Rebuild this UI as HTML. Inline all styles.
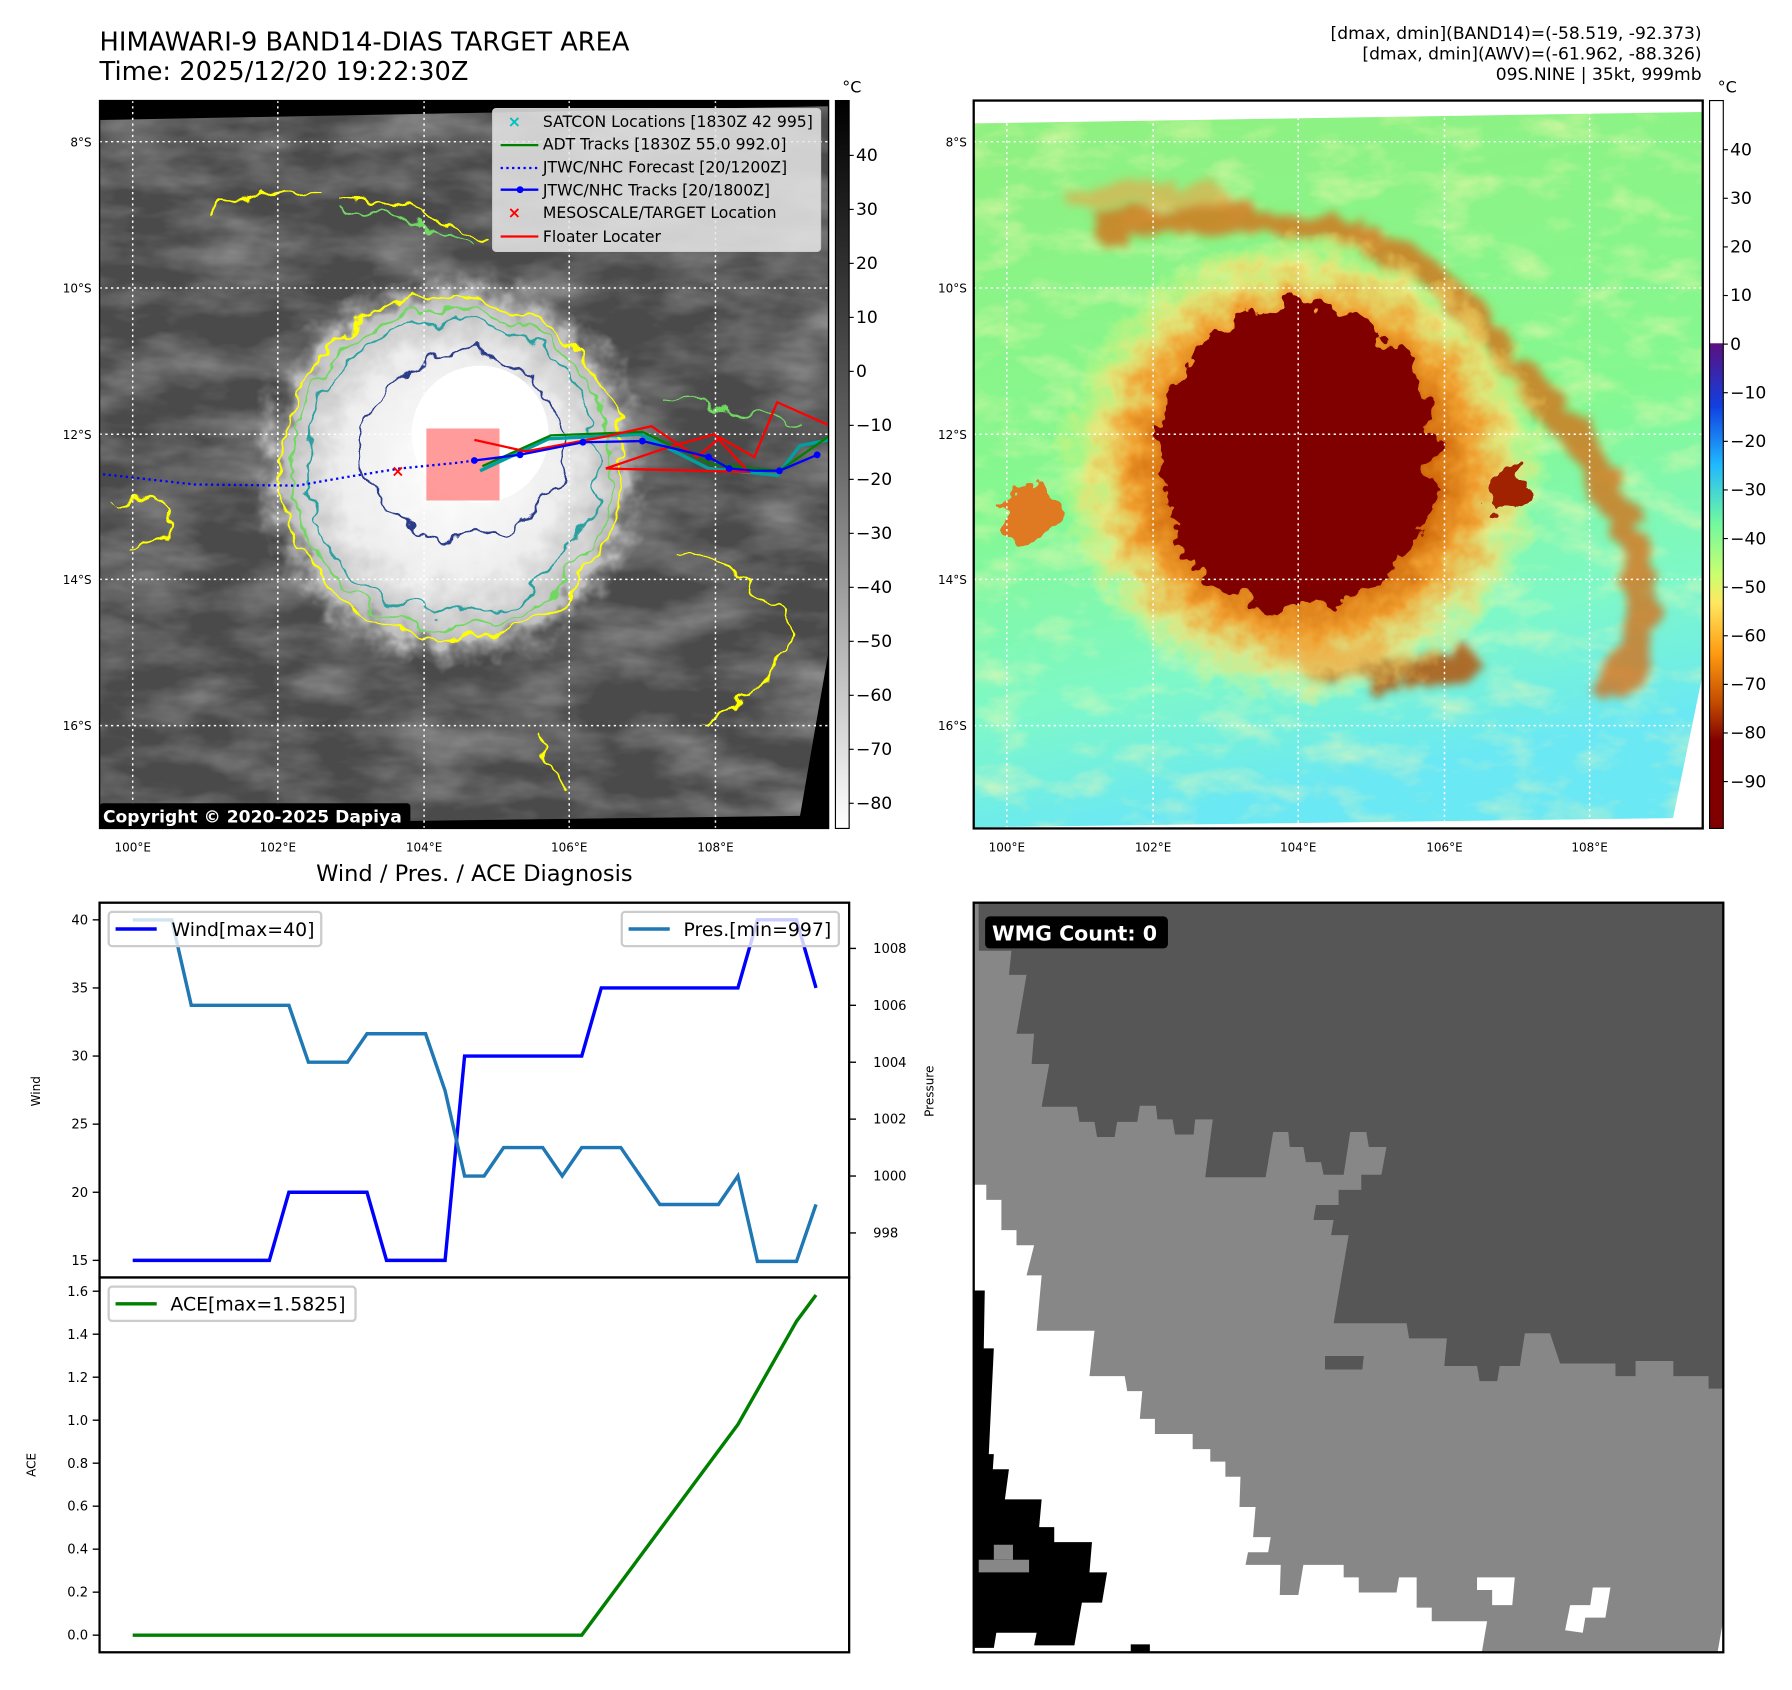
<!DOCTYPE html>
<html><head><meta charset="utf-8"><style>
html,body{margin:0;padding:0;background:#fff;}
svg{display:block;font-family:"DejaVu Sans","Liberation Sans",sans-serif;}
</style></head><body>
<svg id="fig" width="1792" height="1690" viewBox="0 0 1568 1479" xmlns="http://www.w3.org/2000/svg">
<defs>
<clipPath id="clipL"><rect x="87" y="88" width="638" height="637"/></clipPath>
<clipPath id="clipR"><rect x="852" y="88" width="638" height="637"/></clipPath>
<clipPath id="clipB"><rect x="852" y="790" width="656" height="656"/></clipPath>
<clipPath id="clipW"><rect x="87" y="790" width="656" height="328"/></clipPath>
<filter id="noiseG" x="0" y="0" width="100%" height="100%">
<feTurbulence type="fractalNoise" baseFrequency="0.012 0.03" numOctaves="4" seed="3"/>
<feColorMatrix type="matrix" values="0 0 0 0 0.62  0 0 0 0 0.62  0 0 0 0 0.62  0.9 0 0 0 -0.32"/>
</filter>
<filter id="wig" x="-20%" y="-20%" width="140%" height="140%">
<feTurbulence type="fractalNoise" baseFrequency="0.035" numOctaves="3" seed="7" result="t"/>
<feDisplacementMap in="SourceGraphic" in2="t" scale="28" xChannelSelector="R" yChannelSelector="G"/>
</filter>
<filter id="wig2" x="-20%" y="-20%" width="140%" height="140%">
<feTurbulence type="fractalNoise" baseFrequency="0.05" numOctaves="3" seed="11" result="t"/>
<feDisplacementMap in="SourceGraphic" in2="t" scale="40" xChannelSelector="R" yChannelSelector="G"/>
</filter>
<filter id="wigBlur" x="-20%" y="-20%" width="140%" height="140%">
<feTurbulence type="fractalNoise" baseFrequency="0.04" numOctaves="3" seed="13" result="t"/>
<feDisplacementMap in="SourceGraphic" in2="t" scale="30" xChannelSelector="R" yChannelSelector="G" result="d"/>
<feGaussianBlur in="d" stdDeviation="4"/>
</filter>
<filter id="noiseY" x="0" y="0" width="100%" height="100%">
<feTurbulence type="fractalNoise" baseFrequency="0.02 0.04" numOctaves="4" seed="5"/>
<feColorMatrix type="matrix" values="0 0 0 0 1  0 0 0 0 0.95  0 0 0 0 0.45  2.2 0 0 0 -1.05"/>
</filter>
<radialGradient id="cloud" cx="50%" cy="50%" r="50%">
<stop offset="0" stop-color="#ffffff"/><stop offset="0.55" stop-color="#eeeeee"/><stop offset="0.85" stop-color="#bdbdbd"/><stop offset="1" stop-color="#8a8a8a" stop-opacity="0"/>
</radialGradient>
<radialGradient id="halo" cx="50%" cy="50%" r="50%">
<stop offset="0" stop-color="#9a2a00"/><stop offset="0.5" stop-color="#c85a00"/><stop offset="0.7" stop-color="#f0a030"/><stop offset="0.85" stop-color="#ffe070" stop-opacity="0.7"/><stop offset="1" stop-color="#ffff80" stop-opacity="0"/>
</radialGradient>
<linearGradient id="greenBg" x1="0" y1="0" x2="0.2" y2="1">
<stop offset="0" stop-color="#90f080"/><stop offset="0.55" stop-color="#84f890"/><stop offset="0.82" stop-color="#7ef8c8"/><stop offset="1" stop-color="#6ae8f4"/>
</linearGradient>
<linearGradient id="cbGray" x1="0" y1="0" x2="0" y2="1">
<stop offset="0" stop-color="#000"/><stop offset="0.5" stop-color="#6a6a6a"/><stop offset="1" stop-color="#fff"/>
</linearGradient>
<linearGradient id="cbColor" x1="0" y1="0" x2="0" y2="1">
<stop offset="0" stop-color="#fff"/><stop offset="0.333" stop-color="#fff"/>
<stop offset="0.334" stop-color="#5a1080"/><stop offset="0.42" stop-color="#1040e0"/><stop offset="0.5" stop-color="#20b8ff"/>
<stop offset="0.58" stop-color="#70f8a0"/><stop offset="0.65" stop-color="#c8ff70"/><stop offset="0.69" stop-color="#ffe860"/>
<stop offset="0.76" stop-color="#ff9a10"/><stop offset="0.83" stop-color="#c04800"/><stop offset="0.88" stop-color="#800000"/><stop offset="1" stop-color="#800000"/>
</linearGradient>
</defs>

<!-- titles -->
<text x="87" y="44" font-size="22.5">HIMAWARI-9 BAND14-DIAS TARGET AREA</text>
<text x="87" y="70" font-size="22.5">Time: 2025/12/20 19:22:30Z</text>
<text x="1489" y="34" font-size="15" text-anchor="end">[dmax, dmin](BAND14)=(-58.519, -92.373)</text>
<text x="1489" y="52" font-size="15" text-anchor="end">[dmax, dmin](AWV)=(-61.962, -88.326)</text>
<text x="1489" y="70" font-size="15" text-anchor="end">09S.NINE | 35kt, 999mb</text>

<!-- LEFT MAP -->
<g clip-path="url(#clipL)">
<rect x="87" y="88" width="638" height="637" fill="#4a4a4a"/>
<rect x="87" y="88" width="638" height="637" filter="url(#noiseG)"/>
<ellipse cx="395" cy="410" rx="175" ry="175" fill="url(#cloud)" filter="url(#wig2)"/>
<ellipse cx="420" cy="380" rx="60" ry="60" fill="#fff"/>
<g fill="none" filter="url(#wig)">
<ellipse cx="395" cy="410" rx="150" ry="150" stroke="#ffff00" stroke-width="2"/>
<ellipse cx="395" cy="410" rx="140" ry="140" stroke="#70d860" stroke-width="1.8"/>
<ellipse cx="395" cy="408" rx="128" ry="128" stroke="#2aa0a0" stroke-width="1.8"/>
<ellipse cx="405" cy="390" rx="90" ry="80" stroke="#2a3a8a" stroke-width="1.8"/>
<path d="M180,185 Q230,160 280,170 M300,170 Q360,180 420,210 M590,480 Q640,500 690,540 Q690,600 620,630 M470,640 Q480,670 500,690 M100,440 Q130,430 150,450 Q140,480 110,480" stroke="#ffff00" stroke-width="2"/>
<path d="M300,180 Q360,190 410,215 M580,350 Q640,360 700,370" stroke="#70d860" stroke-width="1.8"/>
</g>
<polygon points="87,88 725,88 725,93 87,105" fill="#000"/>
<polygon points="725,570 725,725 87,725 87,722 700,714" fill="#000"/>
<g stroke="#fff" stroke-width="1.3" stroke-dasharray="2,3">
<line x1="87" y1="124" x2="725" y2="124"/><line x1="87" y1="252" x2="725" y2="252"/><line x1="87" y1="380" x2="725" y2="380"/><line x1="87" y1="507" x2="725" y2="507"/><line x1="87" y1="635" x2="725" y2="635"/>
<line x1="116" y1="88" x2="116" y2="725"/><line x1="243" y1="88" x2="243" y2="725"/><line x1="371" y1="88" x2="371" y2="725"/><line x1="498" y1="88" x2="498" y2="725"/><line x1="626" y1="88" x2="626" y2="725"/>
</g>
<rect x="373" y="375" width="64" height="63" fill="#ff7070" fill-opacity="0.7"/>
<polyline points="90,415 170,424 260,425 300,418 350,410 400,405 415,403" fill="none" stroke="#0000ff" stroke-width="2" stroke-dasharray="2,3"/>
<polyline points="420,412 480,384 560,380 620,410 680,416 700,390 725,385" fill="none" stroke="#00a0a0" stroke-width="3"/>
<polyline points="422,408 482,381 562,378 622,406 682,412 725,382" fill="none" stroke="#008000" stroke-width="2"/>
<polyline points="415,385 460,395 530,382 570,373 610,400 630,383 660,400 680,352 725,372" fill="none" stroke="#ff0000" stroke-width="2"/>
<polyline points="530,410 580,393 625,380 655,413 530,410" fill="none" stroke="#ff0000" stroke-width="2"/>
<polyline points="415,403 455,398 510,387 562,386 600,395 620,400 638,410 660,412 682,412 715,398" fill="none" stroke="#0000ff" stroke-width="2"/>
<g fill="#0000ff"><circle cx="415" cy="403" r="3"/><circle cx="455" cy="398" r="3"/><circle cx="510" cy="387" r="3"/><circle cx="562" cy="386" r="3"/><circle cx="620" cy="400" r="3"/><circle cx="638" cy="410" r="3"/><circle cx="682" cy="412" r="3"/><circle cx="715" cy="398" r="3"/></g>
<text x="348" y="417" font-size="14" font-weight="bold" fill="#ff0000" text-anchor="middle">×</text>
</g>
<rect x="87" y="88" width="638" height="637" fill="none" stroke="#000" stroke-width="1.2"/>
<!-- legend -->
<g>
<rect x="431" y="95" width="287" height="125" rx="3" fill="#e8e8e8" fill-opacity="0.85" stroke="#ccc"/>
<text x="450" y="111" font-size="14" fill="#00c0c0" text-anchor="middle" font-weight="bold">×</text>
<line x1="438" y1="127" x2="471" y2="127" stroke="#008000" stroke-width="2"/>
<line x1="438" y1="147" x2="471" y2="147" stroke="#0000ff" stroke-width="2" stroke-dasharray="2,3"/>
<line x1="438" y1="166" x2="471" y2="166" stroke="#0000ff" stroke-width="2"/><circle cx="455" cy="166" r="3" fill="#0000ff"/>
<text x="450" y="191" font-size="14" fill="#ff0000" text-anchor="middle" font-weight="bold">×</text>
<line x1="438" y1="207" x2="471" y2="207" stroke="#ff0000" stroke-width="2"/>
<g font-size="13.7" fill="#000">
<text x="475" y="111">SATCON Locations [1830Z 42 995]</text>
<text x="475" y="131">ADT Tracks [1830Z 55.0 992.0]</text>
<text x="475" y="151">JTWC/NHC Forecast [20/1200Z]</text>
<text x="475" y="171">JTWC/NHC Tracks [20/1800Z]</text>
<text x="475" y="191">MESOSCALE/TARGET Location</text>
<text x="475" y="212">Floater Locater</text>
</g>
</g>
<rect x="87" y="703" width="272" height="22" rx="3" fill="#000"/>
<text x="90" y="720" font-size="15" font-weight="bold" fill="#fff">Copyright © 2020-2025 Dapiya</text>
<!-- left axes labels -->
<g font-size="10.5" fill="#000">
<text x="80" y="128" text-anchor="end">8°S</text><text x="80" y="256" text-anchor="end">10°S</text><text x="80" y="384" text-anchor="end">12°S</text><text x="80" y="511" text-anchor="end">14°S</text><text x="80" y="639" text-anchor="end">16°S</text>
<text x="116" y="745" text-anchor="middle">100°E</text><text x="243" y="745" text-anchor="middle">102°E</text><text x="371" y="745" text-anchor="middle">104°E</text><text x="498" y="745" text-anchor="middle">106°E</text><text x="626" y="745" text-anchor="middle">108°E</text>
</g>
<!-- left colorbar -->
<g>
<rect x="731" y="88" width="12" height="637" fill="url(#cbGray)" stroke="#000" stroke-width="1"/>
<text x="737" y="81" font-size="14">°C</text>
<g id="cbL" font-size="15"></g>
</g>

<!-- RIGHT MAP -->
<g clip-path="url(#clipR)">
<rect x="852" y="88" width="638" height="637" fill="url(#greenBg)"/>
<rect x="852" y="88" width="638" height="637" filter="url(#noiseY)" opacity="0.55"/>
<g filter="url(#wigBlur)" fill="none">
<path d="M960,200 Q1060,180 1180,205 Q1280,240 1320,320 Q1400,390 1430,480 Q1450,570 1400,610" stroke="#d86a10" stroke-width="26" opacity="0.75"/>
<path d="M930,180 Q1000,160 1080,175" stroke="#f0a040" stroke-width="18" opacity="0.6"/>
<path d="M1120,560 Q1200,600 1290,580" stroke="#b84a00" stroke-width="28" opacity="0.8"/>
</g>
<g filter="url(#wig2)">
<ellipse cx="1140" cy="410" rx="215" ry="205" fill="url(#halo)"/>
<ellipse cx="1135" cy="400" rx="120" ry="135" fill="#800000"/>
<ellipse cx="1090" cy="470" rx="60" ry="40" fill="#800000"/>
<ellipse cx="900" cy="450" rx="25" ry="25" fill="#e07a20"/>
<ellipse cx="1320" cy="430" rx="20" ry="18" fill="#a02000"/>
</g>
<polygon points="852,88 1490,88 1490,98 852,108" fill="#fff"/>
<polygon points="1490,590 1490,725 852,725 852,724 1464,716" fill="#fff"/>
<g stroke="#fff" stroke-width="1.3" stroke-dasharray="2,3">
<line x1="852" y1="124" x2="1490" y2="124"/><line x1="852" y1="252" x2="1490" y2="252"/><line x1="852" y1="380" x2="1490" y2="380"/><line x1="852" y1="507" x2="1490" y2="507"/><line x1="852" y1="635" x2="1490" y2="635"/>
<line x1="881" y1="88" x2="881" y2="725"/><line x1="1009" y1="88" x2="1009" y2="725"/><line x1="1136" y1="88" x2="1136" y2="725"/><line x1="1264" y1="88" x2="1264" y2="725"/><line x1="1391" y1="88" x2="1391" y2="725"/>
</g>
</g>
<rect x="852" y="88" width="638" height="637" fill="none" stroke="#000" stroke-width="2"/>
<g font-size="10.5" fill="#000">
<text x="846" y="128" text-anchor="end">8°S</text><text x="846" y="256" text-anchor="end">10°S</text><text x="846" y="384" text-anchor="end">12°S</text><text x="846" y="511" text-anchor="end">14°S</text><text x="846" y="639" text-anchor="end">16°S</text>
<text x="881" y="745" text-anchor="middle">100°E</text><text x="1009" y="745" text-anchor="middle">102°E</text><text x="1136" y="745" text-anchor="middle">104°E</text><text x="1264" y="745" text-anchor="middle">106°E</text><text x="1391" y="745" text-anchor="middle">108°E</text>
</g>
<g>
<rect x="1496" y="88" width="12" height="637" fill="url(#cbColor)" stroke="#000" stroke-width="1"/>
<text x="1503" y="81" font-size="14">°C</text>
<g id="cbR" font-size="15"></g>
</g>

<!-- WIND / PRES / ACE -->
<text x="415" y="771" font-size="19.7" text-anchor="middle">Wind / Pres. / ACE Diagnosis</text>
<g id="chartWind"></g>
<g id="chartAce"></g>

<!-- WMG -->
<g clip-path="url(#clipB)">
<rect x="852" y="790" width="656" height="656" fill="#878787"/>
<g transform="translate(852,788) scale(0.4405)">
<polygon fill="#565656" points="70,5 1515,5 1515,970 1460,970 1460,945 1390,945 1390,915 1315,915 1315,945 1275,945 1275,920 1165,920 1145,860 1095,860 1085,925 1045,925 1040,955 1005,955 1000,925 935,925 940,870 865,870 860,840 715,840 745,665 710,665 715,635 675,635 680,605 725,605 725,575 770,575 770,545 810,545 820,490 785,490 780,460 748,460 735,545 695,545 690,520 660,520 655,490 628,490 625,460 595,460 580,550 460,550 475,435 440,435 437,465 400,465 395,435 365,435 362,408 330,408 325,440 285,440 280,470 245,470 240,440 210,440 205,410 135,410 150,325 115,325 120,265 85,265 105,148 70,148 75,100 10,100 10,5"/>
<polygon fill="#565656" points="10,5 70,5 70,60 10,60"/>
<polygon fill="#565656" points="698,905 775,905 772,932 698,932"/>
<polygon fill="#fff" points="10,565 25,565 25,595 55,595 55,655 85,655 85,685 120,685 105,745 135,745 125,855 240,855 230,945 300,945 305,975 335,975 330,1030 360,1030 360,1060 435,1060 435,1090 470,1090 470,1115 500,1115 500,1145 530,1145 528,1205 560,1205 555,1265 590,1265 585,1295 545,1295 540,1320 610,1320 608,1380 645,1380 655,1320 735,1320 735,1345 765,1345 765,1375 840,1375 845,1345 880,1345 880,1405 910,1405 910,1432 1020,1432 1005,1520 1475,1510 1510,1310 1530,1310 1530,1540 0,1540 0,565"/>
<polygon fill="#fff" points="1000,1345 1075,1345 1070,1400 1030,1400 1030,1370 1000,1370"/>
<polygon fill="#fff" points="1175,1450 1185,1400 1225,1400 1230,1365 1265,1365 1255,1425 1215,1425 1210,1455"/>
<polygon fill="#000" points="0,775 22,775 20,890 40,890 30,1100 40,1100 38,1130 70,1130 62,1190 135,1190 130,1245 160,1245 160,1275 235,1275 230,1335 265,1335 255,1395 215,1395 200,1480 120,1480 125,1455 45,1455 40,1485 0,1485"/>
<polygon fill="#878787" points="10,1310 110,1310 110,1335 10,1335"/>
<polygon fill="#878787" points="40,1280 78,1280 78,1310 40,1310"/>
<rect x="312" y="1478" width="38" height="30" fill="#000"/>
</g>
<rect x="862" y="802" width="160" height="28" rx="4" fill="#000"/>
<text x="868" y="823" font-size="18" font-weight="bold" fill="#fff">WMG Count: 0</text>
</g>
<rect x="852" y="790" width="656" height="656" fill="none" stroke="#000" stroke-width="2"/>

<script>
// ---- chart data ----
const windValues = [15,15,15,15,15,15,15,15,20,20,20,20,20,15,15,15,15,30,30,30,30,30,30,30,35,35,35,35,35,35,35,35,40,40,40,35];
const presValues = [1009,1009,1009,1006,1006,1006,1006,1006,1006,1004,1004,1004,1005,1005,1005,1005,1003,1000,1000,1001,1001,1001,1000,1001,1001,1001,1000,999,999,999,999,1000,997,997,997,999];
const aceValues = [0,0,0,0,0,0,0,0,0,0,0,0,0,0,0,0,0,0,0,0,0,0,0,0,0.1225,0.245,0.3675,0.49,0.6125,0.735,0.8575,0.98,1.14,1.30,1.46,1.5825];
const windTicks = [15,20,25,30,35,40];
const presTicks = [998,1000,1002,1004,1006,1008];
const aceTicks = [0.0,0.2,0.4,0.6,0.8,1.0,1.2,1.4,1.6];
const grayCbTicks = [40,30,20,10,0,-10,-20,-30,-40,-50,-60,-70,-80];
const colorCbTicks = [40,30,20,10,0,-10,-20,-30,-40,-50,-60,-70,-80,-90];

const NS = 'http://www.w3.org/2000/svg';
function mk(tag, attrs, parent){const e=document.createElementNS(NS,tag);for(const k in attrs)e.setAttribute(k,attrs[k]);parent.appendChild(e);return e;}
const xIdx = i => 116 + i*(714-116)/35;
const yWind = v => 1103 - (v-15)*(1103-805)/25;
const yPres = v => 1079 - (v-998)*(1079-830)/10;
const yAce = v => 1431 - v*(1431-1130)/1.6;
const yCbL = v => 136 + (40-v)*(703-136)/120;
const yCbR = v => 131 + (40-v)*(684-131)/130;

// colorbars
const cbL = document.getElementById('cbL');
grayCbTicks.forEach(v=>{
  const y=yCbL(v);
  mk('line',{x1:743,y1:y,x2:747,y2:y,stroke:'#000'},cbL);
  const t=mk('text',{x:749,y:y+5},cbL); t.textContent=(v<0?'\u2212'+(-v):v);
  
  
});
const cbR = document.getElementById('cbR');
colorCbTicks.forEach(v=>{
  const y=yCbR(v);
  mk('line',{x1:1508,y1:y,x2:1512,y2:y,stroke:'#000'},cbR);
  const t=mk('text',{x:1514,y:y+5},cbR); t.textContent=(v<0?'\u2212'+(-v):v);
  
  
});

// wind/pressure chart
const gW = document.getElementById('chartWind');
mk('rect',{x:87,y:790,width:656,height:328,fill:'#fff'},gW);
windTicks.forEach(v=>{
  const y=yWind(v);
  mk('line',{x1:81,y1:y,x2:87,y2:y,stroke:'#000','stroke-width':1.2},gW);
  const t=mk('text',{x:77,y:y+4,'font-size':11.5,'text-anchor':'end'},gW); t.textContent=v;
  
  
});
presTicks.forEach(v=>{
  const y=yPres(v);
  mk('line',{x1:743,y1:y,x2:749,y2:y,stroke:'#000','stroke-width':1.2},gW);
  const t=mk('text',{x:764,y:y+4,'font-size':11.5},gW); t.textContent=v;
  
  
});
const wl=mk('text',{x:35,y:955,'font-size':10.5,'text-anchor':'middle',transform:'rotate(-90 35 955)'},gW); wl.textContent='Wind';


const pl=mk('text',{x:817,y:955,'font-size':10.5,'text-anchor':'middle',transform:'rotate(-90 817 955)'},gW); pl.textContent='Pressure';


const clipG = mk('g',{'clip-path':'url(#clipW)'},gW);
const wLine=mk('polyline',{points:windValues.map((v,i)=>xIdx(i)+','+yWind(v)).join(' '),fill:'none',stroke:'#0000ff','stroke-width':3,'stroke-linejoin':'miter'},clipG);


const pLine=mk('polyline',{points:presValues.map((v,i)=>xIdx(i)+','+yPres(v)).join(' '),fill:'none',stroke:'#1f77b4','stroke-width':3},clipG);


// legends
const lw=mk('g',{},gW);


mk('rect',{x:95,y:798,width:186,height:30,rx:3,fill:'#fff','fill-opacity':0.8,stroke:'#ccc','stroke-width':2},lw);
mk('line',{x1:101,y1:813,x2:137,y2:813,stroke:'#0000ff','stroke-width':3},lw);
const lwt=mk('text',{x:150,y:819,'font-size':16.5},lw); lwt.textContent='Wind[max=40]';
const lp=mk('g',{},gW);


mk('rect',{x:544,y:798,width:190,height:30,rx:3,fill:'#fff','fill-opacity':0.8,stroke:'#ccc','stroke-width':2},lp);
mk('line',{x1:550,y1:813,x2:586,y2:813,stroke:'#1f77b4','stroke-width':3},lp);
const lpt=mk('text',{x:598,y:819,'font-size':16.5},lp); lpt.textContent='Pres.[min=997]';
mk('rect',{x:87,y:790,width:656,height:328,fill:'none',stroke:'#000','stroke-width':2},gW);

// ACE chart
const gA = document.getElementById('chartAce');
mk('rect',{x:87,y:1118,width:656,height:328,fill:'#fff'},gA);
aceTicks.forEach(v=>{
  const y=yAce(v);
  mk('line',{x1:81,y1:y,x2:87,y2:y,stroke:'#000','stroke-width':1.2},gA);
  const t=mk('text',{x:77,y:y+4,'font-size':11.5,'text-anchor':'end'},gA); t.textContent=v.toFixed(1);
  
  
});
const al=mk('text',{x:31,y:1282,'font-size':10.5,'text-anchor':'middle',transform:'rotate(-90 31 1282)'},gA); al.textContent='ACE';


const aLine=mk('polyline',{points:aceValues.map((v,i)=>xIdx(i)+','+yAce(v)).join(' '),fill:'none',stroke:'#008000','stroke-width':3},gA);


const la=mk('g',{},gA);


mk('rect',{x:95,y:1126,width:216,height:30,rx:3,fill:'#fff','fill-opacity':0.8,stroke:'#ccc','stroke-width':2},la);
mk('line',{x1:101,y1:1141,x2:137,y2:1141,stroke:'#008000','stroke-width':3},la);
const lat=mk('text',{x:149,y:1147,'font-size':16.5},la); lat.textContent='ACE[max=1.5825]';
mk('rect',{x:87,y:1118,width:656,height:328,fill:'none',stroke:'#000','stroke-width':2},gA);
</script>
</svg>
</body></html>
